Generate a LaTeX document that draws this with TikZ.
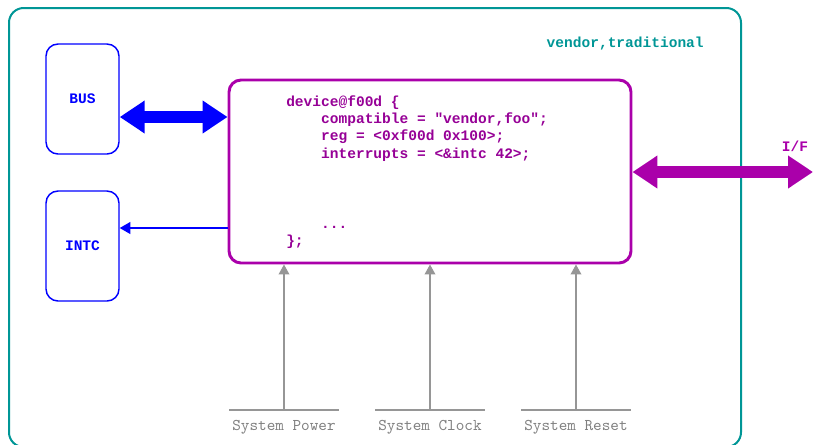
\documentclass[tikz,border=0pt]{standalone}
\usepackage{fontspec}
\setmonofont{Liberation Mono}
\newfontfamily\sigfont{lmmono10-regular.otf}
\usetikzlibrary{arrows.meta}
\definecolor{teal}{RGB}{0,150,150}
\definecolor{devc}{RGB}{170,0,170}
\definecolor{codec}{RGB}{150,0,150}
\definecolor{sigc}{RGB}{150,150,150}
\definecolor{labc}{RGB}{128,128,128}
\begin{document}
\begin{tikzpicture}[x=0.75pt,y=-0.75pt,
  font=\ttfamily\bfseries\fontsize{10.9}{13.1}\selectfont,
  blk/.style={draw=blue,line width=1.1pt,rounded corners=9pt,minimum width=54.75pt,minimum height=82.5pt,text=blue},
  fat/.style={line width=8.5pt,{Triangle[length=18.75pt,width=23.5pt]}-{Triangle[length=18.75pt,width=23.5pt]}},
  sig/.style={draw=sigc,line width=1.1pt,-{Triangle[length=7.5pt,width=8pt]}},
  base/.style={draw=sigc,line width=1.9pt},
  siglabel/.style={text=labc,font=\sigfont\fontsize{12.3}{13.1}\selectfont}]
  \useasboundingbox (0,0) rectangle (814,444);
  \draw[teal,line width=1.5pt,rounded corners=11pt] (9,8) rectangle (741,447);
  \node[anchor=west,text=teal] (vendor) at (542,44) {vendor,traditional};

  \node[blk] (bus) at (82.5,99) {BUS};
  \node[blk] (intc) at (82.5,246) {INTC};
  \node[draw=devc,line width=2.2pt,rounded corners=9pt,minimum width=301.5pt,minimum height=137.25pt] (dev) at (430,171.5) {};
  \node[anchor=north west,align=left,inner sep=0pt,text=codec] (code) at (286,95)
    {device@f00d \{\\
     \hspace*{2.4em}compatible = "vendor,foo";\\
     \hspace*{2.4em}reg = <0xf00d 0x100>;\\
     \hspace*{2.4em}interrupts = <\&intc 42>;\\
     \mbox{}\\ \mbox{}\\ \mbox{}\\
     \hspace*{2.4em}...\\
     \};};

  \draw[blue,fat] ([yshift=-13.5pt]bus.east) -- ([yshift=-13.5pt]bus.east -| dev.west);
  \draw[blue,line width=0.8pt,-{Triangle[length=8pt,width=9pt]}] ([yshift=13.5pt]intc.east -| dev.west) -- ([yshift=13.5pt]intc.east);

  \coordinate (ifend) at (813,172);
  \draw[devc,fat] (dev.east |- ifend) -- (ifend);
  \node[text=devc] (if) at (795,146) {I/F};

  \foreach \x/\name/\txt in {284/pw/System Power,430/clk/System Clock,576/rst/System Reset}{
    \coordinate (\name) at (\x,410);
    \draw[base] ([xshift=-41pt]\name) -- ([xshift=41pt]\name);
    \draw[sig] (\name) -- (\name |- dev.south);
    \node[siglabel] (\name lab) at (\x,427) {\txt};
  }
\end{tikzpicture}
\end{document}
